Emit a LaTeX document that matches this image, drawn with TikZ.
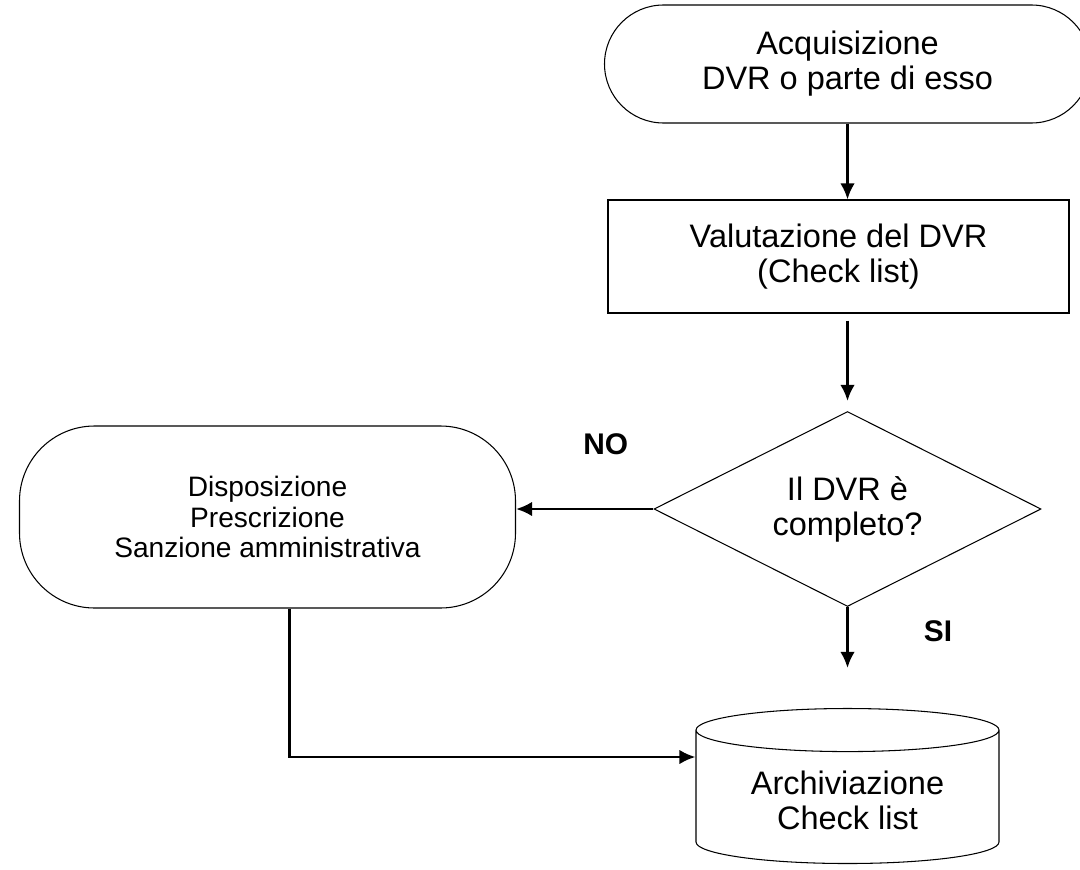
\documentclass[tikz,border=0pt]{standalone}
\usepackage{fontspec}
\setmainfont{Liberation Sans}
\usetikzlibrary{positioning, arrows.meta, shapes.geometric}
\tikzstyle{term}=[draw, rectangle, rounded corners=1.18cm, line width=0.6pt, align=center, font=\fontsize{18.5}{20}\selectfont]
\tikzstyle{proc}=[draw, rectangle, line width=0.6pt, minimum width=9.22cm, minimum height=2.26cm, align=center, font=\fontsize{18.5}{20}\selectfont]
\tikzstyle{test}=[draw, diamond, aspect=2, line width=0.6pt, minimum width=7.74cm, minimum height=3.9cm, inner sep=0pt, align=center, font=\fontsize{18.5}{20}\selectfont]
\tikzstyle{store}=[draw, cylinder, shape border rotate=90, aspect=0.21, line width=0.6pt, minimum width=6.06cm, minimum height=3.1cm, align=center, font=\fontsize{18.5}{20}\selectfont]
\tikzstyle{lbl}=[inner sep=0pt, font=\fontsize{17}{20}\selectfont\bfseries]

\begin{document}
\begin{tikzpicture}[node distance=3.85cm, auto, >={Latex[length=3.2mm, width=2.9mm]}, line width=1.5pt]
    \useasboundingbox (0,0) rectangle (21.6,-17.38);
    \node [term, minimum width=9.72cm, minimum height=2.36cm] (acq) at (16.95,-1.28) {Acquisizione\\DVR o parte di esso};
    \node [proc] (val) [below of=acq, xshift=-0.18cm] {Valutazione del DVR\\(Check list)};
    \node [test] (chk) [below of=acq, node distance=8.9cm] {Il DVR è\\completo?};
    \node [store] (arch) [below of=chk, node distance=5.82cm] {Archiviazione\\Check list};
    \node [term, rounded corners=1.5cm, minimum width=9.92cm, minimum height=3.64cm, font=\fontsize{16}{17.6}\selectfont] (disp) [left of=chk, node distance=11.6cm, yshift=-0.16cm] {Disposizione\\Prescrizione\\Sanzione amministrativa};
    \node [lbl, above left=1.06cm and 0.48cm of chk.west] (no) {NO};
    \node [lbl, below right=0.24cm and 1.5cm of chk.south] (si) {SI};
    \path[->] (acq.south) edge (acq.south |- val.north);
    \path[->] (chk.north |- val.south) edge[shorten <=0.14cm, shorten >=0.2cm] (chk.north);
    \path[->] (chk.west) edge (chk.west -| disp.east);
    \path[->] (chk) edge[shorten >=0.8cm] (arch);
    \draw[->] ([xshift=0.44cm]disp.south) |- ([yshift=0.86cm]arch.west);
\end{tikzpicture}
\end{document}
